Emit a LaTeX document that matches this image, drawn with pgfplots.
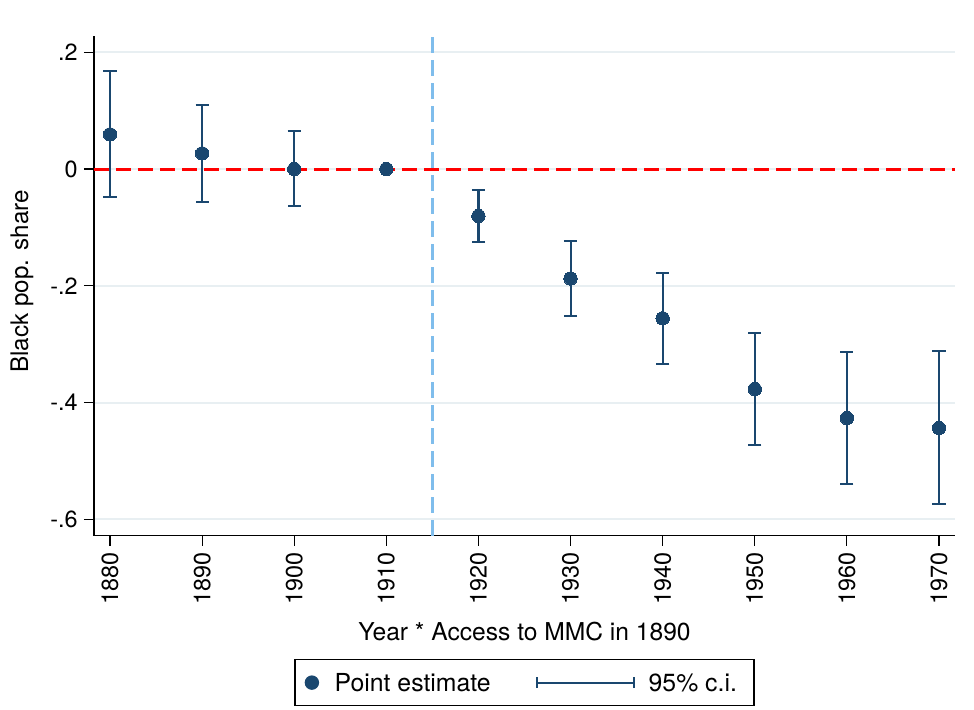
\documentclass[border=0pt]{standalone}
\usepackage{fontspec}
\setmainfont{TeX Gyre Heros}
\usepackage{pgfplots}
\pgfplotsset{compat=1.18}
\usepackage{pgfplotstable}
\definecolor{navy}{HTML}{1A476F}
\definecolor{gridc}{HTML}{E8EFF2}
\definecolor{vline}{HTML}{7FBDEC}
\definecolor{zred}{HTML}{FF0000}

\pgfplotstableread{
year b
1880 0.0593
1890 0.0268
1900 0.0000
1910 0.0000
1920 -0.0805
1930 -0.1875
1940 -0.2557
1950 -0.3768
1960 -0.4265
1970 -0.4436
}\pest

\pgfplotstableread{
year b lo hi
1880 0.0593 -0.0483 0.1679
1890 0.0268 -0.0564 0.1096
1900 0.0000 -0.0634 0.0656
1920 -0.0805 -0.1250 -0.0360
1930 -0.1875 -0.2523 -0.1233
1940 -0.2557 -0.3340 -0.1776
1950 -0.3768 -0.4733 -0.2809
1960 -0.4265 -0.5396 -0.3135
1970 -0.4436 -0.5743 -0.3123
}\ci

\begin{document}
\begin{tikzpicture}
\useasboundingbox (-47pt,-87.15pt) rectangle (440pt,267.85pt);
\begin{axis}[
  scale only axis, width=430.5pt, height=249.85pt,
  xmin=1878.26, xmax=1971.74, ymin=-0.628, ymax=0.2278,
  axis x line*=bottom, axis y line*=left,
  xtick pos=bottom, ytick pos=left,
  axis line style={-, line width=0.6pt, black},
  tick align=outside, major tick length=5pt,
  tick style={line width=0.6pt, black},
  xtick={1880,1890,1900,1910,1920,1930,1940,1950,1960,1970},
  xticklabels={1880,1890,1900,1910,1920,1930,1940,1950,1960,1970},
  ytick={-0.6,-0.4,-0.2,0,0.2},
  yticklabels={-.6,-.4,-.2,0,.2},
  ymajorgrids, grid style={gridc, line width=1pt},
  xticklabel style={rotate=90, anchor=east, inner sep=0pt, font=\fontsize{11.7}{13}\selectfont},
  yticklabel style={anchor=east, inner sep=0pt, font=\fontsize{11.7}{13}\selectfont},
  xticklabel shift=3pt, yticklabel shift=3pt,
  xlabel={Year * Access to MMC in 1890},
  ylabel={Black pop. share},
  xlabel style={at={(axis description cs:0.5,-0.1721)}, anchor=north, inner sep=0pt, font=\fontsize{12.3}{14}\selectfont},
  ylabel style={at={(axis description cs:-0.09756,0.509)}, anchor=north, inner sep=0pt, font=\fontsize{12.1}{14}\selectfont},
  legend columns=2,
  legend cell align=left,
  legend style={at={(0.5,-0.2468)}, anchor=north, draw=black, line width=0.6pt,
    inner xsep=4.8pt, inner ysep=7pt,
    font=\fontsize{12.4}{14}\selectfont,
    nodes={inner sep=0pt, text height=9pt, text depth=0pt},
    /tikz/column 1/.style={column sep=7.8pt},
    /tikz/column 2/.style={column sep=22.5pt},
    /tikz/column 3/.style={column sep=7pt}},
]
\addplot[vline, line width=1.4pt, dash pattern=on 8pt off 3.5pt, forget plot]
  coordinates {(1915,-0.628) (1915,0.2278)};
\addplot[zred, line width=1.5pt, dash pattern=on 7.5pt off 3.5pt, forget plot]
  coordinates {(1878.26,0) (1971.74,0)};
\addplot[navy, only marks, mark=*, mark size=3.35pt, mark options={fill=navy, draw=navy, line width=0pt},
  legend image code/.code={\fill[navy] (0,0) circle (3.3pt);}]
  table[x=year, y=b]{\pest};
\addlegendentry{Point estimate}
\addplot[navy, only marks, mark=none,
  legend image code/.code={\draw[navy, line width=1pt] (0,0) -- (48.5pt,0) (0,-2.75pt) -- (0,2.75pt) (48.5pt,-2.75pt) -- (48.5pt,2.75pt);},
  error bars/.cd, y dir=both, y explicit,
  error bar style={navy, line width=1.05pt, solid},
  error mark options={rotate=90, navy, line width=1.05pt, mark size=3.3pt}]
  table[x=year, y=b, y error plus expr=\thisrow{hi}-\thisrow{b}, y error minus expr=\thisrow{b}-\thisrow{lo}]{\ci};
\addlegendentry{95\% c.i.\hspace*{3.7pt}}
\end{axis}
\end{tikzpicture}
\end{document}
